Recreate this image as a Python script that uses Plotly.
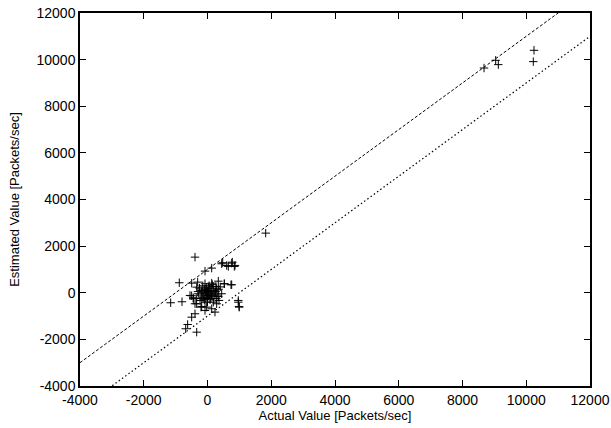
import plotly.graph_objects as go

# Actual vs estimated values (packets/sec)
actual = [
    8675, 9041, 9123, 10243, 10221, 1826,
    -496, -308, -78, 132, 339, 527, 759, 445, 602, 759, 841,
    -549, -446, -289, -182, -78, 25, 132, 235, 339, 445, 25, -132, -235, -78, 78, 182, 288,
    -392, -204, -25, 132, 966, 997, -339, -25, 182, 288,
    -392, -885, -1155, -800, -78, 132, 477, 653, 778, 863, 737, 967, 988, 361, 235, -78,
    -182, -339, -392, -497, -622, -684, -339, 267, 527, -497, -445,
    -150, -100, 0, 50, 100, 150, 200, -50, -200, 250, 300, -100, 0, 100, -250, 50, 150,
    -150, 0, 200, -50, 75, -175, 275, 125, -25, 350, 400, -300, -350,
]
estimated = [
    9640, 9970, 9785, 10400, 9914, 2558,
    412, 455, 386, 412, 497, 386, 343, 1244, 1171, 1270, 1128,
    -116, -215, -43, 98, 25, 171, 98, -43, -159, -43, -116, -189, -331, -404, -301, -404, -472,
    -472, -618, -618, -687, -404, -618, 240, 240, 270, 171,
    1528, 429, -429, -386, 927, 1056, 1288, 1129, 1313, 1172, 343, -330, -588, -330, -830, -760,
    -588, -472, -901, -1047, -1361, -1545, -1691, 270, 386, -129, -258,
    0, 150, 50, -50, 0, -150, 100, -200, -100, 50, -100, -300, -250, -250, 200, 300, 350,
    300, -400, -250, 100, 200, -250, -250, -100, -50, 150, 250, 50, -250,
]

ref_x = [-4000, 12000]
upper_offset = 1000
lower_offset = -1000

x_ticks = [-4000, -2000, 0, 2000, 4000, 6000, 8000, 10000, 12000]
y_ticks = [-4000, -2000, 0, 2000, 4000, 6000, 8000, 10000, 12000]

fig = go.Figure()
fig.add_trace(go.Scatter(
    x=ref_x, y=[v + upper_offset for v in ref_x], mode="lines",
    line=dict(color="black", width=1, dash="3px,2px"), showlegend=False,
))
fig.add_trace(go.Scatter(
    x=ref_x, y=[v + lower_offset for v in ref_x], mode="lines",
    line=dict(color="black", width=1.2, dash="1.5px,2.5px"), showlegend=False,
))
fig.add_trace(go.Scatter(
    x=actual, y=estimated, mode="markers",
    marker=dict(symbol="cross-thin", size=6, line=dict(color="black", width=1)),
    showlegend=False,
))

font = dict(family="Liberation Sans, Arial, sans-serif", size=14, color="black")
title_font = dict(family="Liberation Sans, Arial, sans-serif", size=13, color="black")
axis_common = dict(
    showgrid=False, zeroline=False, showline=True, linecolor="black", linewidth=1.5,
    mirror="ticks", ticks="inside", ticklen=6, tickwidth=1, tickcolor="black",
    tickfont=font, automargin=False,
)
fig.update_layout(
    width=611, height=428,
    margin=dict(l=80, r=21, t=13, b=42),
    paper_bgcolor="white", plot_bgcolor="white",
    font=font,
    xaxis=dict(range=[-4000, 12000], tickvals=x_ticks, ticktext=[str(v) for v in x_ticks],
               title=dict(text="Actual Value [Packets/sec]", font=title_font, standoff=2),
               **axis_common),
    yaxis=dict(range=[-4000, 12000], tickvals=y_ticks, ticktext=[str(v) for v in y_ticks],
               title=dict(text="Estimated Value [Packets/sec]", font=title_font, standoff=14),
               **axis_common),
)
fig.write_html("out.html")
